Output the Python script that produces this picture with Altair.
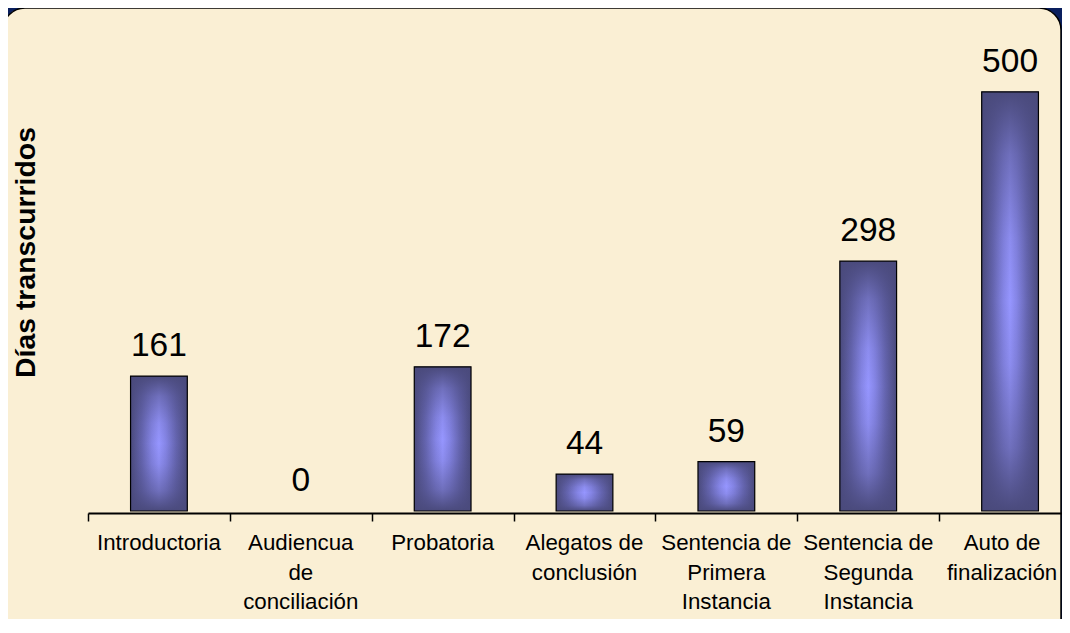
import altair as alt
import pandas as pd

# ---- data ----
categories = [
    "Introductoria",
    "Audiencua\nde\nconciliación",
    "Probatoria",
    "Alegatos de\nconclusión",
    "Sentencia de\nPrimera\nInstancia",
    "Sentencia de\nSegunda\nInstancia",
    "Auto de\nfinalización",
]
values = [161, 0, 172, 44, 59, 298, 500]
y_title = "Días transcurridos"

df = pd.DataFrame({"fase": categories, "dias": values})

FONT = "Liberation Sans"
NAVY = "#0a1f5e"
PANEL = "#faefd4"

x_enc = alt.X(
    "fase:N",
    sort=categories,
    scale=alt.Scale(range=[0, 993], paddingInner=0, paddingOuter=0),
    axis=alt.Axis(
        title=None,
        labels=False,
        domainColor="black",
        domainWidth=2,
        tickColor="black",
        tickWidth=1.5,
        tickSize=8,
        tickBand="extent",
        offset=2,
        grid=False,
        zindex=2,
    ),
)
y_enc = alt.Y(
    "dias:Q",
    scale=alt.Scale(domain=[0, 600]),
    axis=alt.Axis(
        title=y_title,
        titleFont=FONT,
        titleFontSize=28.4,
        titleFontWeight="bold",
        titleColor="black",
        titleAngle=-90,
        titleAlign="center",
        titleBaseline="middle",
        titleX=-63,
        titleY=244,
        labels=False,
        ticks=False,
        domain=False,
        grid=False,
        zindex=2,
    ),
)

hgrad = alt.LinearGradient(
    gradient="linear",
    stops=[
        alt.GradientStop(color="#4a4a7c", offset=0),
        alt.GradientStop(color="#6565b0", offset=0.2),
        alt.GradientStop(color="#8585e6", offset=0.38),
        alt.GradientStop(color="#9696ff", offset=0.5),
        alt.GradientStop(color="#8585e6", offset=0.62),
        alt.GradientStop(color="#6565b0", offset=0.8),
        alt.GradientStop(color="#4a4a7c", offset=1),
    ],
    x1=0, x2=1, y1=0, y2=0,
)
vgrad = alt.LinearGradient(
    gradient="linear",
    stops=[
        alt.GradientStop(color="rgba(74,74,124,1)", offset=0),
        alt.GradientStop(color="rgba(74,74,124,0.5)", offset=0.15),
        alt.GradientStop(color="rgba(74,74,124,0.12)", offset=0.35),
        alt.GradientStop(color="rgba(74,74,124,0)", offset=0.5),
        alt.GradientStop(color="rgba(74,74,124,0.12)", offset=0.65),
        alt.GradientStop(color="rgba(74,74,124,0.5)", offset=0.85),
        alt.GradientStop(color="rgba(74,74,124,1)", offset=1),
    ],
    x1=0, x2=0, y1=0, y2=1,
)

panel = alt.Chart(alt.Data(values=[{"p": 1}])).mark_rect(
    fill=PANEL, stroke="black", strokeWidth=1.5, cornerRadius=22
).encode(
    x=alt.value(-85), x2=alt.value(973), y=alt.value(0), y2=alt.value(640)
)

base = alt.Chart(df).encode(x=x_enc, y=y_enc)
nonzero = base.transform_filter("datum.dias > 0")

bars_h = nonzero.mark_bar(width=alt.RelativeBandSize(0.4), fill=hgrad, strokeWidth=0)
bars_v = nonzero.mark_bar(
    width=alt.RelativeBandSize(0.4), fill=vgrad, stroke="black", strokeWidth=1.2
)
values_text = base.mark_text(
    dy=-20, baseline="alphabetic", font=FONT, fontSize=33.5, color="black"
).encode(text="dias:Q")

# category labels (drawn as text so the last one can be nudged inside the frame)
cat_base = alt.Chart(df).encode(x=x_enc, y=alt.value(524), text="fase:N")
cat_style = dict(
    baseline="top", align="center", font=FONT, fontSize=22.3,
    lineBreak="\n", lineHeight=29.5, color="black",
)
cat_main = cat_base.transform_filter(
    "indexof(datum.fase, 'finaliz') < 0"
).mark_text(**cat_style)
cat_last = cat_base.transform_filter(
    "indexof(datum.fase, 'finaliz') >= 0"
).mark_text(dx=-8, **cat_style)

chart = (
    alt.layer(panel, bars_h, bars_v, values_text, cat_main, cat_last)
    .properties(
        width=974,
        height=503,
        autosize=alt.AutoSizeParams(type="none"),
        padding={"left": 80, "top": 0, "right": 0, "bottom": 108},
        background=NAVY,
    )
    .configure_view(strokeWidth=0)
)

chart.save("out.html", embed_options={"renderer": "svg", "actions": False})
